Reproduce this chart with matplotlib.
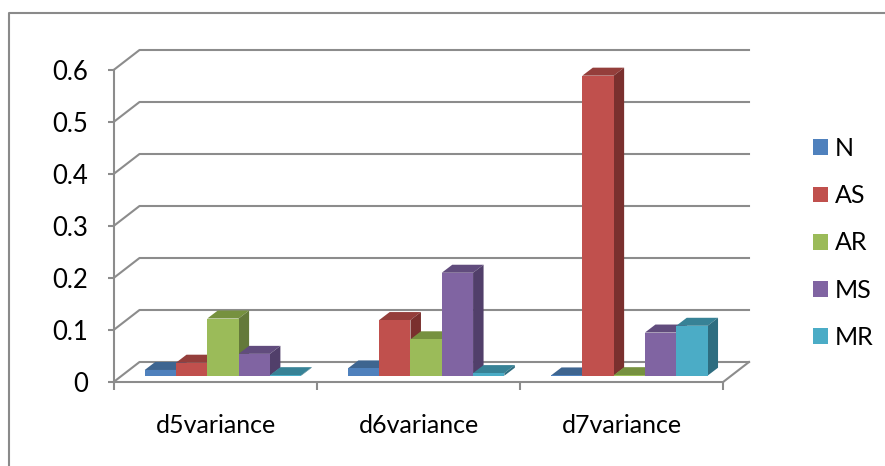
import matplotlib
matplotlib.use("Agg")
import matplotlib.pyplot as plt
from matplotlib.lines import Line2D
from matplotlib.patches import Patch

plt.rcParams['font.family'] = ['Lato', 'DejaVu Sans']

categories = ['d5variance', 'd6variance', 'd7variance']
series_names = ['N', 'AS', 'AR', 'MS', 'MR']
N = [0.011, 0.014, 0.0005]
AS = [0.025, 0.107, 0.577]
AR = [0.11, 0.07, 0.001]
MS = [0.042, 0.198, 0.083]
MR = [0.001, 0.005, 0.096]
y_ticks = [0, 0.1, 0.2, 0.3, 0.4, 0.5, 0.6]
y_labels = ['0', '0.1', '0.2', '0.3', '0.4', '0.5', '0.6']

series_values = [N, AS, AR, MS, MR]
front_colors = ['#4F81BD', '#C0504D', '#9BBB59', '#8064A2', '#4BACC6']
top_colors = ['#3E6590', '#943E3B', '#76913F', '#614C7D', '#378296']
side_colors = ['#33547A', '#7A302E', '#64793A', '#513F6A', '#2E6D80']
GREY = '#8C8C8C'

W, H = 885, 466
fig = plt.figure(figsize=(W / 100, H / 100), dpi=100)

# front plane of the 3D box, in pixels
left, right, bottom, top = 114, 723.5, 381.7, 69.7
ax = fig.add_axes([left / W, 1 - bottom / H, (right - left) / W, (bottom - top) / H])
ax.set_xlim(0, 3)
ax.set_ylim(0, 0.6)
ax.patch.set_visible(False)

# pixel to data scale, for the oblique offsets
px_x = 3 / (right - left)
px_y = 0.6 / (bottom - top)

# walls: grid lines run along the back, slanted up from the front axis
wall_dx, wall_dy = 25.5 * px_x, 19.7 * px_y
for v in y_ticks:
    ax.plot([0, wall_dx, 3 + wall_dx], [v, v + wall_dy, v + wall_dy],
            color=GREY, lw=1.5, clip_on=False, zorder=1)
ax.plot([3, 3 + wall_dx], [0, wall_dy], color=GREY, lw=1.5, clip_on=False, zorder=1)

# bars: front face plus shaded top and side
bar_w = 31.3 * px_x
bar_start = 30.7 * px_x
floor = 6 * px_y
depth_x, depth_y = 10.5 * px_x, 8 * px_y
for c in range(len(categories)):
    for s, values in enumerate(series_values):
        x0 = c + bar_start + s * bar_w
        x1 = x0 + bar_w
        y1 = floor + values[c]
        ax.fill([x0, x1, x1 + depth_x, x0 + depth_x],
                [y1, y1, y1 + depth_y, y1 + depth_y],
                color=top_colors[s], lw=0, clip_on=False, zorder=3)
        ax.fill([x1, x1 + depth_x, x1 + depth_x, x1],
                [floor, floor + depth_y, y1 + depth_y, y1],
                color=side_colors[s], lw=0, clip_on=False, zorder=3)
        ax.bar(x0, values[c], width=bar_w, bottom=floor, align='edge',
               color=front_colors[s], lw=0, clip_on=False, zorder=4)

for name in ['top', 'right']:
    ax.spines[name].set_visible(False)
for name in ['left', 'bottom']:
    ax.spines[name].set_color(GREY)
    ax.spines[name].set_linewidth(1.5)

ax.set_yticks(y_ticks)
ax.set_yticklabels(y_labels)
ax.set_xticks([0, 1, 2, 3])
ax.set_xticklabels([])
ax.set_xticks([0.5, 1.5, 2.5], minor=True)
ax.set_xticklabels(categories, minor=True)
ax.tick_params(axis='y', length=4.5, width=1.5, color=GREY, labelsize=18.5, pad=14)
ax.tick_params(axis='x', which='major', length=5.5, width=1.5, color=GREY)
ax.tick_params(axis='x', which='minor', length=0, labelsize=18, pad=23)

handles = [Patch(facecolor=c, lw=0) for c in front_colors]
fig.legend(handles, series_names, loc='center left', bbox_to_anchor=(813 / W, 1 - 243 / H),
           frameon=False, fontsize=18, handlelength=0.6, handleheight=0.6,
           handletextpad=0.28, labelspacing=0.97, borderpad=0, borderaxespad=0)

# outer chart frame, only top and left edges show
fig.add_artist(Line2D([9 / W, 9 / W, 1], [0, 1 - 13 / H, 1 - 13 / H], color='#8A8A8A', lw=1.5))

fig.savefig('out.png', dpi=100)
